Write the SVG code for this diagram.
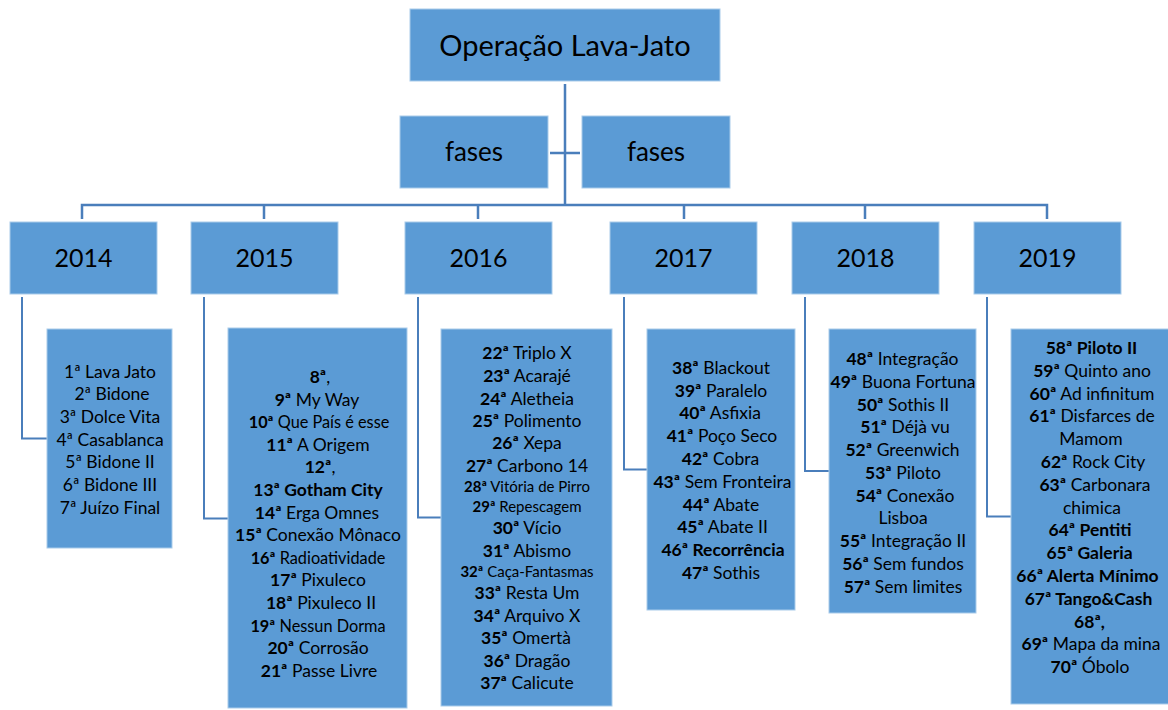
<svg xmlns="http://www.w3.org/2000/svg" width="1168" height="710" viewBox="0 0 1168 710">
<style>
.box{fill:#5B9BD5;stroke:#A9CBEA;stroke-width:1}
.t{font-family:Lato,"Liberation Sans",sans-serif;fill:#000;text-anchor:middle}
.h{font-size:29px}
.y{font-size:25px}
.d{font-size:17.5px}
.m{font-size:16.3px}
.s{font-size:15px}
.b{font-weight:bold}
.c{fill:none;stroke:#4A7EBB;stroke-width:2.5}
.k{fill:none;stroke:#4A7EBB;stroke-width:2}
</style>
<rect width="1168" height="710" fill="#fff"/>
<g id="connectors">
<path class="c" d="M565 84V205M82 219V205H1047V219M264 205V219M478 205V219M684 205V219M865 205V219M550 153H580"/>
<path class="k" d="M22 297V438.5H47M204 297V518.5H228M418 297V517.5H441M624 297V469.5H647M805 297V471H829M987 297V516.5H1011"/>
</g>
<g id="root"><rect class="box" x="410" y="9" width="310" height="72"/><text class="t h" x="565" y="56">Operação Lava-Jato</text></g>
<g id="fases1"><rect class="box" x="400" y="116" width="148" height="72"/><text class="t y" x="474" y="161" style="font-size:26px">fases</text></g>
<g id="fases2"><rect class="box" x="582" y="116" width="148" height="72"/><text class="t y" x="656" y="161" style="font-size:26px">fases</text></g>
<g id="y2014"><rect class="box" x="10" y="222" width="147" height="72"/><text class="t y" x="83.5" y="267">2014</text></g>
<g id="y2015"><rect class="box" x="191" y="222" width="147" height="72"/><text class="t y" x="264.5" y="267">2015</text></g>
<g id="y2016"><rect class="box" x="405" y="222" width="147" height="72"/><text class="t y" x="478.5" y="267">2016</text></g>
<g id="y2017"><rect class="box" x="610" y="222" width="147" height="72"/><text class="t y" x="683.5" y="267">2017</text></g>
<g id="y2018"><rect class="box" x="792" y="222" width="147" height="72"/><text class="t y" x="865.5" y="267">2018</text></g>
<g id="y2019"><rect class="box" x="974" y="222" width="147" height="72"/><text class="t y" x="1047.5" y="267">2019</text></g>
<g id="f2014"><rect class="box" x="47" y="329" width="125" height="219"/>
<g class="t d">
<text x="110" y="377.7">1ª Lava Jato</text>
<text x="112" y="400.3">2ª Bidone</text>
<text x="110" y="423">3ª Dolce Vita</text>
<text x="110" y="445.7">4ª Casablanca</text>
<text x="110" y="468.3">5ª Bidone II</text>
<text x="110" y="491">6ª Bidone III</text>
<text x="110" y="513.7">7ª Juízo Final</text>
</g></g>
<g id="f2015"><rect class="box" x="228" y="328" width="179" height="380"/>
<g class="t d">
<text x="320" y="383"><tspan class="b">8ª</tspan>,</text>
<text x="317" y="405.6"><tspan class="b">9ª</tspan> My Way</text>
<text x="319" y="428.2" class="m"><tspan class="b">10ª</tspan> Que País é esse</text>
<text x="318" y="450.8"><tspan class="b">11ª</tspan> A Origem</text>
<text x="320" y="473.4"><tspan class="b">12ª</tspan>,</text>
<text x="318" y="496" class="b">13ª Gotham City</text>
<text x="317" y="518.6"><tspan class="b">14ª</tspan> Erga Omnes</text>
<text x="318" y="541.2"><tspan class="b">15ª</tspan> Conexão Mônaco</text>
<text x="318" y="563.8" class="m"><tspan class="b">16ª</tspan> Radioatividade</text>
<text x="318" y="586.4"><tspan class="b">17ª</tspan> Pixuleco</text>
<text x="321" y="609"><tspan class="b">18ª</tspan> Pixuleco II</text>
<text x="318" y="631.6" class="m"><tspan class="b">19ª</tspan> Nessun Dorma</text>
<text x="318" y="654.2"><tspan class="b">20ª</tspan> Corrosão</text>
<text x="319" y="676.8"><tspan class="b">21ª</tspan> Passe Livre</text>
</g></g>
<g id="f2016"><rect class="box" x="441" y="329" width="171" height="377"/>
<g class="t d">
<text x="527" y="359.3"><tspan class="b">22ª</tspan> Triplo X</text>
<text x="527" y="382"><tspan class="b">23ª</tspan> Acarajé</text>
<text x="527" y="405"><tspan class="b">24ª</tspan> Aletheia</text>
<text x="527" y="427"><tspan class="b">25ª</tspan> Polimento</text>
<text x="527" y="449.3"><tspan class="b">26ª</tspan> Xepa</text>
<text x="527" y="472"><tspan class="b">27ª</tspan> Carbono 14</text>
<text x="527" y="491.7" class="s"><tspan class="b">28ª</tspan> Vitória de Pirro</text>
<text x="527" y="512.3" class="s"><tspan class="b">29ª</tspan> Repescagem</text>
<text x="527" y="534.3"><tspan class="b">30ª</tspan> Vício</text>
<text x="527" y="557"><tspan class="b">31ª</tspan> Abismo</text>
<text x="527" y="576.7" class="s"><tspan class="b">32ª</tspan> Caça-Fantasmas</text>
<text x="527" y="599.3"><tspan class="b">33ª</tspan> Resta Um</text>
<text x="527" y="622"><tspan class="b">34ª</tspan> Arquivo X</text>
<text x="526" y="644.3"><tspan class="b">35ª</tspan> Omertà</text>
<text x="527" y="667"><tspan class="b">36ª</tspan> Dragão</text>
<text x="527" y="689.3"><tspan class="b">37ª</tspan> Calicute</text>
</g></g>
<g id="f2017"><rect class="box" x="647" y="329" width="148" height="281"/>
<g class="t d">
<text x="721" y="373.7"><tspan class="b">38ª</tspan> Blackout</text>
<text x="721" y="396.5"><tspan class="b">39ª</tspan> Paralelo</text>
<text x="720" y="419.3"><tspan class="b">40ª</tspan> Asfixia</text>
<text x="722" y="442.1"><tspan class="b">41ª</tspan> Poço Seco</text>
<text x="720.5" y="464.9"><tspan class="b">42ª</tspan> Cobra</text>
<text x="722.5" y="487.7"><tspan class="b">43ª</tspan> Sem Fronteira</text>
<text x="721" y="510.5"><tspan class="b">44ª</tspan> Abate</text>
<text x="722.5" y="533.3"><tspan class="b">45ª</tspan> Abate II</text>
<text x="723" y="556.1" class="b">46ª Recorrência</text>
<text x="721" y="578.9"><tspan class="b">47ª</tspan> Sothis</text>
</g></g>
<g id="f2018"><rect class="box" x="829" y="329" width="147" height="284"/>
<g class="t d">
<text x="902.5" y="365"><tspan class="b">48ª</tspan> Integração</text>
<text x="903" y="387.8"><tspan class="b">49ª</tspan> Buona Fortuna</text>
<text x="903" y="410.5"><tspan class="b">50ª</tspan> Sothis II</text>
<text x="905" y="433.3"><tspan class="b">51ª</tspan> Déjà vu</text>
<text x="902.5" y="456"><tspan class="b">52ª</tspan> Greenwich</text>
<text x="903" y="478.8"><tspan class="b">53ª</tspan> Piloto</text>
<text x="905" y="501.6"><tspan class="b">54ª</tspan> Conexão</text>
<text x="903" y="524.3">Lisboa</text>
<text x="903" y="547.1"><tspan class="b">55ª</tspan> Integração II</text>
<text x="903" y="569.8"><tspan class="b">56ª</tspan> Sem fundos</text>
<text x="903" y="592.6"><tspan class="b">57ª</tspan> Sem limites</text>
</g></g>
<g id="f2019"><rect class="box" x="1011" y="329" width="158" height="375"/>
<g class="t d">
<text x="1091.5" y="354" class="b">58ª Piloto II</text>
<text x="1092" y="376.8"><tspan class="b">59ª</tspan> Quinto ano</text>
<text x="1092" y="399.6"><tspan class="b">60ª</tspan> Ad infinitum</text>
<text x="1092" y="422.4"><tspan class="b">61ª</tspan> Disfarces de</text>
<text x="1091" y="445.2">Mamom</text>
<text x="1093" y="468"><tspan class="b">62ª</tspan> Rock City</text>
<text x="1095" y="490.8"><tspan class="b">63ª</tspan> Carbonara</text>
<text x="1092" y="513.6">chimica</text>
<text x="1090" y="536.4" class="b">64ª Pentiti</text>
<text x="1089.5" y="559.2" class="b">65ª Galeria</text>
<text x="1087.5" y="582" class="b">66ª Alerta Mínimo</text>
<text x="1088.5" y="604.8" class="b">67ª Tango&amp;Cash</text>
<text x="1089.5" y="627.6" class="b">68ª,</text>
<text x="1091" y="650.4"><tspan class="b">69ª</tspan> Mapa da mina</text>
<text x="1090" y="673.2"><tspan class="b">70ª</tspan> Óbolo</text>
</g></g>
</svg>
